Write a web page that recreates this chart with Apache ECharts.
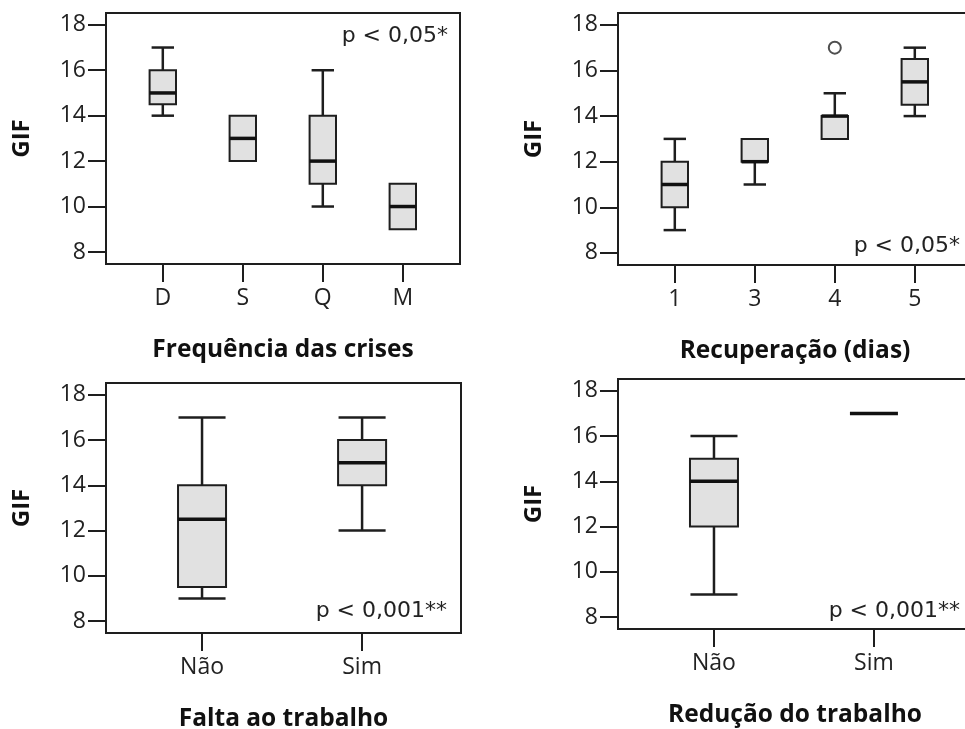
<!DOCTYPE html>
<html>
<head>
<meta charset="utf-8">
<script src="https://cdn.jsdelivr.net/npm/echarts@6/dist/echarts.min.js"></script>
<style>
html,body{margin:0;padding:0;background:#fff;}
#chart{width:965px;height:729px;}
</style>
</head>
<body>
<div id="chart"></div>
<script>
// ---- data ----
const yTicks = [8, 10, 12, 14, 16, 18];

const freqCats = ['D', 'S', 'Q', 'M'];
// [min, Q1, median, Q3, max]
const freqBox = [[14, 14.5, 15, 16, 17], [12, 12, 13, 14, 14], [10, 11, 12, 14, 16], [9, 9, 10, 11, 11]];

const recCats = ['1', '3', '4', '5'];
const recBox = [[9, 10, 11, 12, 13], [11, 12, 12, 13, 13], [13, 13, 14, 14, 15], [14, 14.5, 15.5, 16.5, 17]];
const recOutliers = [[2, 17]]; // [category index, value]

const faltaCats = ['Não', 'Sim'];
const faltaBox = [[9, 9.5, 12.5, 14, 17], [12, 14, 15, 16, 17]];

const reducCats = ['Não', 'Sim'];
const reducBox = [[9, 12, 14, 15, 16], [17, 17, 17, 17, 17]];

const axisTitles = ['Frequência das crises', 'Recuperação (dias)', 'Falta ao trabalho', 'Redução do trabalho'];
const pTexts = ['p < 0,05*', 'p < 0,05*', 'p < 0,001**', 'p < 0,001**'];

// ---- layout / style ----
const FONT = 'Open Sans';
const PFONT = 'DejaVu Sans';
const INK = '#1e1e1e';
const panels = [
  {cats: freqCats, box: freqBox, outliers: [], grid: {left: 106, top: 13, width: 354, height: 251}, xr: [0.29, 4.715], bw: 0.33, cw: 0.14,
   p: {right: 517, top: 25}},
  {cats: recCats, box: recBox, outliers: recOutliers, grid: {left: 618, top: 13, width: 354, height: 252}, xr: [0.29, 4.715], bw: 0.33, cw: 0.14,
   p: {right: 5, top: 235}},
  {cats: faltaCats, box: faltaBox, outliers: [], grid: {left: 106, top: 383, width: 355, height: 250}, xr: [0.40, 2.618], bw: 0.30, cw: 0.147,
   p: {right: 518, top: 600}},
  {cats: reducCats, box: reducBox, outliers: [], grid: {left: 618, top: 379, width: 354, height: 250}, xr: [0.40, 2.613], bw: 0.30, cw: 0.147,
   p: {right: 5, top: 600}}
];
const yRange = [7.47, 18.52];

function makeRender(bwFrac, cwFrac) {
  return function (params, api) {
    const x = api.value(0);
    const vmin = api.value(1), q1 = api.value(2), med = api.value(3), q3 = api.value(4), vmax = api.value(5);
    const pMin = api.coord([x, vmin]), pQ1 = api.coord([x, q1]), pMed = api.coord([x, med]);
    const pQ3 = api.coord([x, q3]), pMax = api.coord([x, vmax]);
    const unit = api.size([1, 0])[0];
    const bw = unit * bwFrac, cw = unit * cwFrac;
    const cx = pMed[0];
    const wStyle = {stroke: INK, lineWidth: 2.5, fill: null};
    const ch = [];
    if (vmax > q3) {
      ch.push({type: 'line', shape: {x1: cx, y1: pQ3[1], x2: cx, y2: pMax[1]}, style: wStyle});
      ch.push({type: 'line', shape: {x1: cx - cw, y1: pMax[1], x2: cx + cw, y2: pMax[1]}, style: wStyle});
    }
    if (vmin < q1) {
      ch.push({type: 'line', shape: {x1: cx, y1: pQ1[1], x2: cx, y2: pMin[1]}, style: wStyle});
      ch.push({type: 'line', shape: {x1: cx - cw, y1: pMin[1], x2: cx + cw, y2: pMin[1]}, style: wStyle});
    }
    if (q3 > q1) {
      ch.push({type: 'rect', shape: {x: cx - bw / 2, y: pQ3[1], width: bw, height: pQ1[1] - pQ3[1]},
        style: {fill: '#e1e1e1', stroke: INK, lineWidth: 2}});
    }
    ch.push({type: 'line', shape: {x1: cx - bw / 2, y1: pMed[1], x2: cx + bw / 2, y2: pMed[1]},
      style: {stroke: '#111', lineWidth: 3.5}});
    return {type: 'group', children: ch};
  };
}

const grid = [], xAxis = [], yAxis = [], series = [], title = [];
panels.forEach((pn, i) => {
  grid.push(Object.assign({show: true, borderColor: INK, borderWidth: 2, backgroundColor: 'transparent',
    containLabel: false, outerBoundsMode: 'none'}, pn.grid));
  const xt = pn.cats.map((c, k) => k + 1);
  xAxis.push({
    type: 'value', gridIndex: i, min: pn.xr[0], max: pn.xr[1],
    axisLine: {show: false}, splitLine: {show: false},
    axisTick: {show: true, length: 18, customValues: xt, lineStyle: {color: INK, width: 2}},
    axisLabel: {show: true, customValues: xt, margin: 23, fontSize: 23, fontFamily: FONT, color: '#222',
      formatter: v => pn.cats[Math.round(v) - 1]},
    name: axisTitles[i], nameLocation: 'middle', nameGap: 74,
    nameTextStyle: {fontSize: 24.5, fontWeight: 'bold', fontFamily: FONT, color: '#111'}
  });
  yAxis.push({
    type: 'value', gridIndex: i, min: yRange[0], max: yRange[1],
    axisLine: {show: false}, splitLine: {show: false},
    axisTick: {show: true, length: 18, customValues: yTicks, lineStyle: {color: INK, width: 2}},
    axisLabel: {show: true, customValues: yTicks, margin: 20, fontSize: 23, fontFamily: FONT, color: '#222'},
    name: 'GIF', nameLocation: 'middle', nameGap: 72,
    nameTextStyle: {fontSize: 24, fontWeight: 'bold', fontFamily: FONT, color: '#111'}
  });
  series.push({
    type: 'custom', xAxisIndex: i, yAxisIndex: i, clip: false,
    renderItem: makeRender(pn.bw, pn.cw),
    encode: {x: 0, y: [1, 2, 3, 4, 5]},
    data: pn.box.map((b, k) => [k + 1].concat(b)),
    silent: true, animation: false
  });
  if (pn.outliers.length) {
    series.push({
      type: 'scatter', xAxisIndex: i, yAxisIndex: i, symbol: 'emptyCircle', symbolSize: 12,
      itemStyle: {color: '#222', borderWidth: 2.2, borderColor: '#222'},
      data: pn.outliers.map(o => [o[0] + 1, o[1]]), silent: true, animation: false
    });
  }
  title.push({text: pTexts[i], right: pn.p.right, top: pn.p.top, padding: 0,
    textStyle: {fontSize: 22, fontWeight: 'normal', fontFamily: PFONT, color: '#222'}});
});

const chart = echarts.init(document.getElementById('chart'), null, {renderer: 'canvas'});
chart.setOption({backgroundColor: '#fff', animation: false, title, grid, xAxis, yAxis, series});
</script>
</body>
</html>
